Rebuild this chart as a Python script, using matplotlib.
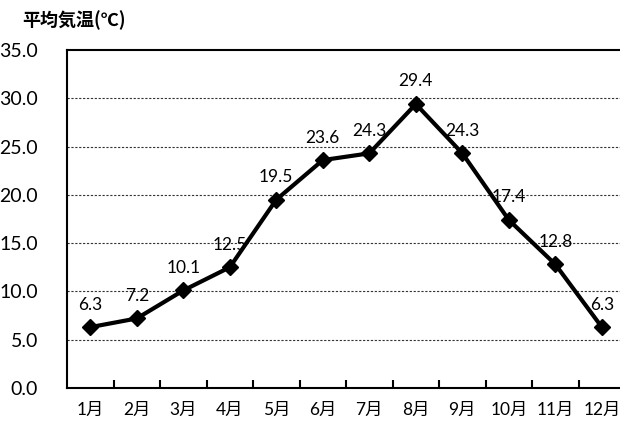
import numpy as np
import matplotlib.pyplot as plt
from matplotlib.ticker import FixedLocator, FormatStrFormatter

plt.rcParams['font.family'] = ['Lato', 'Noto Sans CJK JP', 'DejaVu Sans']

months = ['1月', '2月', '3月', '4月', '5月', '6月', '7月', '8月', '9月', '10月', '11月', '12月']
temps = [6.3, 7.2, 10.1, 12.5, 19.5, 23.6, 24.3, 29.4, 24.3, 17.4, 12.8, 6.3]
y_ticks = [0, 5, 10, 15, 20, 25, 30, 35]

fig = plt.figure(figsize=(6.2, 4.23), dpi=100)
ax = fig.add_axes([67 / 620, 35 / 423, 1 - 67 / 620, 338 / 423])

x = np.arange(len(months))
ax.plot(x, temps, color='black', lw=3, marker='D', markersize=8, zorder=3)

for xi, t in zip(x, temps):
    ax.annotate(f'{t:.1f}', (xi, t), xytext=(0, 10.5), textcoords='offset points',
                ha='center', va='bottom', fontsize=12.5)

ax.set_xlim(-0.5, 11.39)
ax.set_ylim(0, 35)
ax.set_yticks(y_ticks)
ax.yaxis.set_major_formatter(FormatStrFormatter('%.1f'))
ax.set_xticks(x)
ax.set_xticklabels(months)
ax.xaxis.set_minor_locator(FixedLocator(np.arange(0.5, 11, 1)))

ax.tick_params(axis='x', which='major', length=0, pad=10, labelsize=12.5)
ax.tick_params(axis='x', which='minor', direction='in', length=6, width=1.5)
ax.tick_params(axis='y', length=0, pad=21, labelsize=14)

for v in y_ticks[1:-1]:
    ax.axhline(v, color='#333333', lw=0.8, ls=(0, (2, 1.5)), zorder=1)

for side in ['left', 'bottom', 'top']:
    ax.spines[side].set_linewidth(1.5)
ax.spines['right'].set_visible(False)

fig.text(22 / 620, 1 - 20 / 423, '平均気温(℃)', fontsize=13, fontweight='bold',
         family=['Noto Sans CJK JP', 'DejaVu Sans'], ha='left', va='center')

fig.savefig('out.png', dpi=100)
